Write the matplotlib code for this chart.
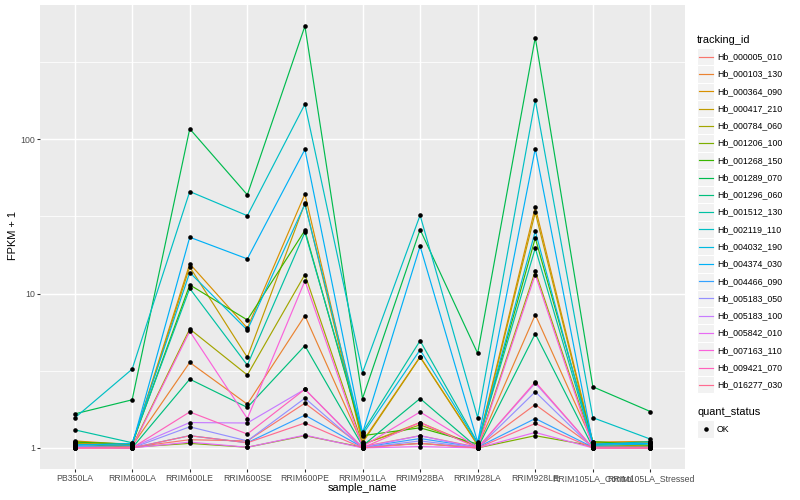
import numpy as np
import matplotlib
matplotlib.use("Agg")
import matplotlib.pyplot as plt
from matplotlib.lines import Line2D
from matplotlib.patches import Rectangle
from matplotlib.ticker import FixedLocator, NullFormatter

plt.rcParams['font.family'] = ['Liberation Sans', 'DejaVu Sans']

# ---------------- data (FPKM + 1) ----------------
samples = ["PB350LA", "RRIM600LA", "RRIM600LE", "RRIM600SE", "RRIM600PE",
           "RRIM901LA", "RRIM928BA", "RRIM928LA", "RRIM928LE",
           "RRIM105LA_Control", "RRIM105LA_Stressed"]

tracking_ids = ["Hb_000005_010", "Hb_000103_130", "Hb_000364_090", "Hb_000417_210",
                "Hb_000784_060", "Hb_001206_100", "Hb_001268_150", "Hb_001289_070",
                "Hb_001296_060", "Hb_001512_130", "Hb_002119_110", "Hb_004032_190",
                "Hb_004374_030", "Hb_004466_090", "Hb_005183_050", "Hb_005183_100",
                "Hb_005842_010", "Hb_007163_110", "Hb_009421_070", "Hb_016277_030"]

hb_000005_010 = [1.03, 1.01, 1.13, 1.11, 1.95, 1.02, 1.20, 1.01, 1.91, 1.02, 1.01]
hb_000103_130 = [1.08, 1.03, 3.58, 1.92, 7.2, 1.05, 1.46, 1.02, 7.3, 1.08, 1.10]
hb_000364_090 = [1.11, 1.05, 15.6, 5.98, 44.2, 1.10, 3.90, 1.05, 36.3, 1.09, 1.10]
hb_000417_210 = [1.10, 1.04, 14.9, 3.86, 38.5, 1.08, 3.88, 1.04, 33.6, 1.07, 1.08]
hb_000784_060 = [1.07, 1.02, 5.9, 2.97, 13.3, 1.06, 1.41, 1.03, 14.0, 1.05, 1.03]
hb_001206_100 = [1.06, 1.01, 1.07, 1.01, 1.20, 1.01, 1.07, 1.00, 1.20, 1.03, 1.02]
hb_001268_150 = [1.09, 1.06, 11.4, 6.75, 25.7, 1.20, 1.35, 1.06, 22.9, 1.10, 1.04]
hb_001289_070 = [1.66, 2.05, 117.0, 43.7, 542.0, 2.09, 26.0, 4.10, 457.0, 2.49, 1.72]
hb_001296_060 = [1.02, 1.00, 2.79, 1.83, 4.6, 1.03, 2.09, 1.00, 5.5, 1.01, 1.00]
hb_001512_130 = [1.31, 1.08, 10.8, 3.44, 25.0, 1.26, 4.95, 1.08, 19.7, 1.05, 1.10]
hb_002119_110 = [1.56, 3.24, 45.9, 32.0, 169.0, 3.08, 32.2, 1.57, 180.0, 1.57, 1.14]
hb_004032_190 = [1.04, 1.07, 13.7, 5.8, 38.0, 1.22, 4.32, 1.07, 25.4, 1.04, 1.06]
hb_004374_030 = [1.05, 1.04, 23.2, 16.8, 86.0, 1.25, 20.3, 1.09, 87.0, 1.06, 1.07]
hb_004466_090 = [1.02, 1.00, 1.20, 1.08, 1.63, 1.01, 1.15, 1.01, 1.55, 1.01, 1.01]
hb_005183_050 = [1.01, 1.00, 1.37, 1.11, 2.10, 1.00, 1.11, 1.00, 2.31, 1.00, 1.00]
hb_005183_100 = [1.01, 1.01, 1.46, 1.45, 2.40, 1.01, 1.20, 1.00, 2.63, 1.00, 1.00]
hb_005842_010 = [1.00, 1.00, 1.09, 1.01, 1.21, 1.00, 1.02, 1.00, 1.26, 1.00, 1.00]
hb_007163_110 = [1.00, 1.01, 5.7, 1.55, 12.1, 1.02, 1.71, 1.01, 13.3, 1.01, 1.01]
hb_009421_070 = [1.00, 1.00, 1.71, 1.23, 2.40, 1.00, 1.46, 1.00, 2.68, 1.00, 1.00]
hb_016277_030 = [1.00, 1.00, 1.20, 1.08, 1.45, 1.00, 1.07, 1.00, 1.44, 1.00, 1.00]

series = [hb_000005_010, hb_000103_130, hb_000364_090, hb_000417_210, hb_000784_060,
          hb_001206_100, hb_001268_150, hb_001289_070, hb_001296_060, hb_001512_130,
          hb_002119_110, hb_004032_190, hb_004374_030, hb_004466_090, hb_005183_050,
          hb_005183_100, hb_005842_010, hb_007163_110, hb_009421_070, hb_016277_030]

colors = ["#F8766D", "#EA8331", "#D89000", "#C09B00", "#A3A500", "#7CAE00", "#39B600",
          "#00BB4E", "#00BF7D", "#00C1A3", "#00BFC4", "#00BAE0", "#00B0F6", "#35A2FF",
          "#9590FF", "#C77CFF", "#E76BF3", "#FA62DB", "#FF62BC", "#FF6C91"]

# ---------------- figure ----------------
W, H = 800, 500
fig = plt.figure(figsize=(8, 5), dpi=100)
fig.patch.set_facecolor("white")

def fx(px):
    return px / W

def fy(py):
    return 1 - py / H

PT = 0.72  # px -> pt at 100 dpi

p_left, p_right, p_top, p_bot = 40, 685, 5, 469
ax = fig.add_axes([fx(p_left), fy(p_bot), (p_right - p_left) / W, (p_bot - p_top) / H])
ax.set_facecolor("#EBEBEB")
for s in ax.spines.values():
    s.set_visible(False)

x = np.arange(len(samples))
for vals, col in zip(series, colors):
    ax.plot(x, vals, color=col, lw=0.85, solid_capstyle="butt", zorder=2)
for vals in series:
    ax.plot(x, vals, linestyle="none", marker="o", ms=3.3, mfc="black",
            mec="black", mew=0, zorder=3)

ax.set_yscale("log")
allv = np.concatenate([np.asarray(v) for v in series])
lo, hi = np.log10(allv.min()), np.log10(allv.max())
pad = 0.05 * (hi - lo)
ax.set_ylim(10 ** (lo - pad), 10 ** (hi + pad))
ax.set_xlim(-0.6, len(samples) - 0.4)

ax.yaxis.set_major_locator(FixedLocator([1, 10, 100]))
ax.set_yticklabels(["1", "10", "100"])
ax.yaxis.set_minor_locator(FixedLocator([10 ** 0.5, 10 ** 1.5, 10 ** 2.5]))
ax.yaxis.set_minor_formatter(NullFormatter())
ax.set_xticks(x)
ax.set_xticklabels(samples)

ax.tick_params(axis="both", which="major", length=2.75 * PT, width=1.07 * PT,
               color="#333333", labelcolor="#4D4D4D", labelsize=8.8 * PT, pad=2.2 * PT)
ax.tick_params(axis="y", which="minor", length=0)
ax.grid(which="major", color="white", lw=1.07)
ax.grid(which="minor", axis="y", color="white", lw=0.55)
ax.set_axisbelow(True)

# axis titles
fig.text(fx(362), fy(488), "sample_name", ha="center", va="center",
         fontsize=11 * PT, color="black")
fig.text(fx(13), fy(236), "FPKM + 1", ha="center", va="center", rotation=90,
         fontsize=11 * PT, color="black")

# ---------------- legend ----------------
fig.text(fx(697), fy(40), "tracking_id", ha="left", va="center",
         fontsize=11 * PT, color="black")
key_w, key_h, step = 17.3, 17.3, 17.27
y0 = 56.7
for i, (tid, col) in enumerate(zip(tracking_ids, colors)):
    cy = y0 + i * step
    fig.patches.append(Rectangle((fx(697), fy(cy + key_h / 2)), key_w / W, key_h / H,
                                 transform=fig.transFigure, facecolor="#F2F2F2",
                                 edgecolor="white", lw=0.8))
    fig.lines.append(Line2D([fx(699), fx(712.5)], [fy(cy), fy(cy)],
                            transform=fig.transFigure, color=col, lw=0.85))
    fig.text(fx(717), fy(cy), tid, ha="left", va="center",
             fontsize=8.8 * PT, color="black")

fig.text(fx(697), fy(412), "quant_status", ha="left", va="center",
         fontsize=11 * PT, color="black")
cy = 429
fig.patches.append(Rectangle((fx(697), fy(cy + key_h / 2)), key_w / W, key_h / H,
                             transform=fig.transFigure, facecolor="#F2F2F2",
                             edgecolor="white", lw=0.8))
fig.lines.append(Line2D([fx(705.6)], [fy(cy)], transform=fig.transFigure,
                        marker="o", ms=3.3, mfc="black", mec="black", mew=0,
                        linestyle="none"))
fig.text(fx(717), fy(cy), "OK", ha="left", va="center", fontsize=8.8 * PT, color="black")

fig.savefig("out.png", dpi=100, facecolor="white")
